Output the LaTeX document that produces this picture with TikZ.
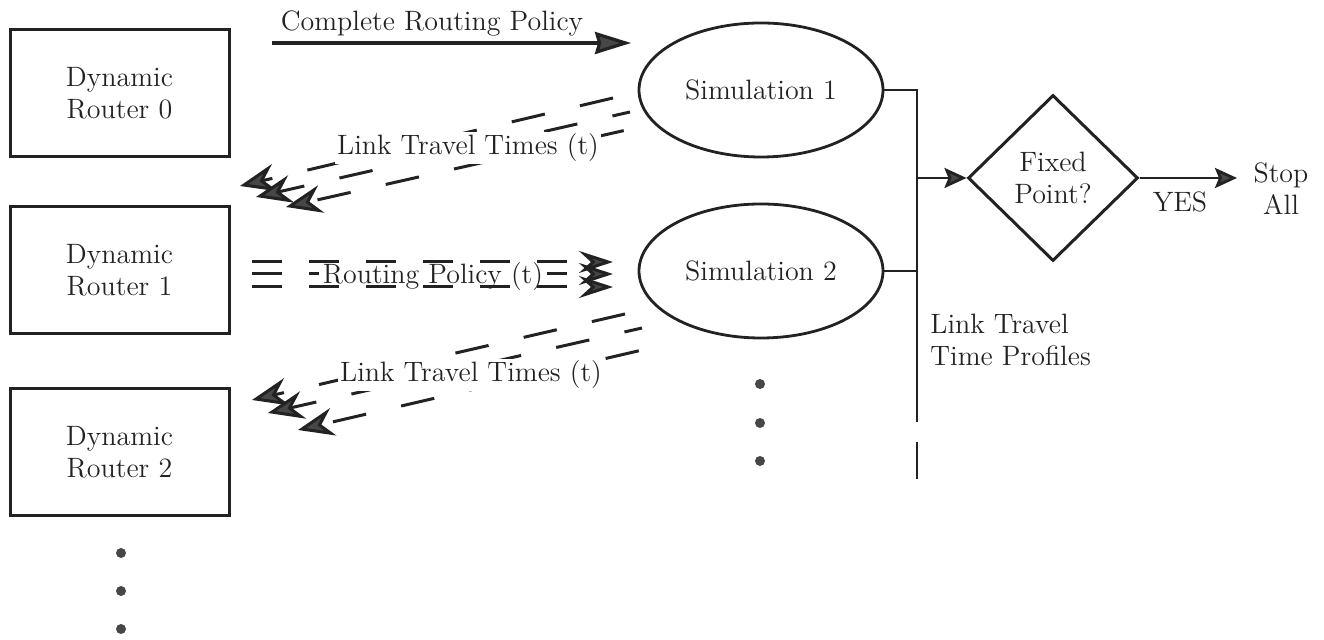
\documentclass[tikz,border=0pt]{standalone}
\usetikzlibrary{arrows.meta,shapes.geometric}
\definecolor{ink}{HTML}{222222}
\definecolor{tipgray}{HTML}{474747}

\begin{document}
\begin{tikzpicture}[x=0.5pt,y=-0.5pt,
  txt/.style={font=\fontsize{14}{16}\selectfont, text=ink, align=center},
  router/.style={txt, draw=ink, line width=1.5pt, rectangle,
    minimum width=109.5pt, minimum height=63.5pt, inner sep=0pt},
  sim/.style={txt, draw=ink, line width=1.4pt, ellipse,
    minimum width=122pt, minimum height=67pt, inner sep=0pt},
  test/.style={txt, draw=ink, line width=1.5pt, diamond,
    minimum width=85pt, minimum height=83pt, inner sep=0pt},
  wire/.style={draw=ink, line width=1.4pt},
  solidtip/.style={-{Stealth[length=11pt,width=10pt,inset=2pt,fill=tipgray]}},
  bigtip/.style={-{Stealth[length=18pt,width=11pt,inset=1.5pt,fill=tipgray]}},
  feedback/.style={draw=ink, line width=1.5pt, dash pattern=on 17pt off 18pt,
    -{Stealth[length=18pt,width=14pt,inset=6pt,fill=tipgray]}},
  policy/.style={draw=ink, line width=1.5pt, dash pattern=on 15pt off 13.5pt,
    -{Stealth[length=17pt,width=11pt,inset=6pt,fill=tipgray]}},
  lbl/.style={txt, fill=white, inner sep=1pt},
  dotnode/.style={circle, fill=tipgray, inner sep=0pt, minimum size=5pt}]

\path[fill=white, use as bounding box] (0,0) rectangle (1324,640);

% routers
\node[router] (r0) at (119.5,93)    {Dynamic\\Router 0};
\node[router] (r1) at (119.5,270.5) {Dynamic\\Router 1};
\node[router] (r2) at (119.5,452.5) {Dynamic\\Router 2};
\node[dotnode] (rd1) at (121,553) {};
\node[dotnode] (rd2) at (121,591) {};
\node[dotnode] (rd3) at (121,629) {};

% simulations
\node[sim] (s1) at (761,90)  {Simulation 1};
\node[sim] (s2) at (761,271) {Simulation 2};
\node[dotnode] (sd1) at (760,384) {};
\node[dotnode] (sd2) at (760,423) {};
\node[dotnode] (sd3) at (760,461) {};

% convergence test
\node[test] (fp) at (1053,178) {Fixed\\Point?};
\node[txt] (stop) at (1281,189) {Stop\\All};
\node[txt, anchor=base] (yes) at (1180,212) {YES};

% complete routing policy
\coordinate (crA) at (272,43);
\coordinate (crB) at (631,43);
\draw[wire, line width=1.6pt, bigtip] (crA) -- (crB);
\node[txt, anchor=base] (crl) at (432,31) {Complete Routing Policy};

% link travel times fed back from simulation 1
\coordinate (u1s) at (613,98);  \coordinate (u1e) at (240,186);
\coordinate (u2s) at (630,112); \coordinate (u2e) at (256,197);
\coordinate (u3s) at (653,124); \coordinate (u3e) at (286,207);
\draw[feedback] (u1s) -- (u1e);
\draw[feedback, dash phase=8pt] (u2s) -- (u2e);
\draw[feedback, dash phase=20pt] (u3s) -- (u3e);
\node[lbl, anchor=base] (ltt1) at (468,155) {Link Travel Times (t)};

% routing policy sent to simulation 2
\coordinate (p1s) at (252,262); \coordinate (p1e) at (613,262);
\coordinate (p2s) at (252,274); \coordinate (p2e) at (613,274);
\coordinate (p3s) at (252,287); \coordinate (p3e) at (613,287);
\draw[policy] (p1s) -- (p1e);
\draw[policy] (p2s) -- (p2e);
\draw[policy] (p3s) -- (p3e);
\node[txt, fill=white, inner xsep=2pt, inner ysep=0pt, text depth=0pt, anchor=base]
  (rp) at (433,284) {Routing Policy (t)};

% link travel times fed back from simulation 2
\coordinate (l1s) at (625,314); \coordinate (l1e) at (252,400);
\coordinate (l2s) at (642,328); \coordinate (l2e) at (268,413);
\coordinate (l3s) at (668,344); \coordinate (l3e) at (298,430);
\draw[feedback] (l1s) -- (l1e);
\draw[feedback, dash phase=8pt] (l2s) -- (l2e);
\draw[feedback, dash phase=20pt] (l3s) -- (l3e);
\node[lbl, anchor=base] (ltt2) at (471,382) {Link Travel Times (t)};

% travel time profile bus
\coordinate (busTop) at (917,90);
\coordinate (busEnd) at (917,422);
\coordinate (gapA) at (917,442);
\coordinate (gapB) at (917,479);
\coordinate (tap) at (917,178);
\coordinate (yesEnd) at (1237,178);
\draw[wire] (s1.east) -- (busTop) -- (busEnd);
\draw[wire] (s2.east) -- (s2.east -| busTop);
\draw[wire] (gapA) -- (gapB);
\draw[wire, solidtip] (tap) -- (fp.west);
\draw[wire, solidtip] (fp.east) -- (yesEnd);
\node[txt, align=left, anchor=north west, inner sep=0pt] (prof) at (930,314)
  {Link Travel\\Time Profiles};

\end{tikzpicture}
\end{document}
